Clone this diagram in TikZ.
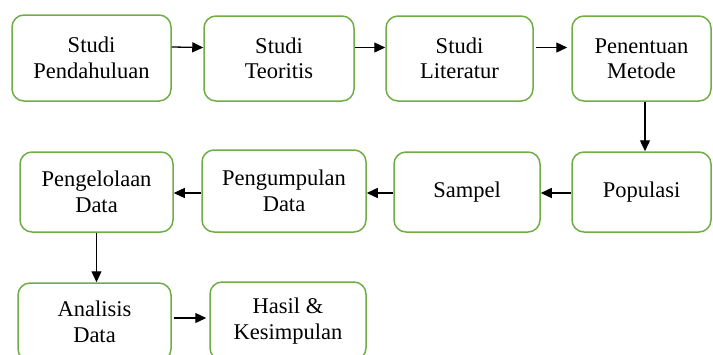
\documentclass[tikz,border=0pt]{standalone}
\usepackage{fontspec}
\setmainfont{Liberation Serif}
\usetikzlibrary{arrows.meta}
\definecolor{boxgreen}{RGB}{112,173,71}
\tikzset{
  stepbox/.style={draw=boxgreen, line width=1.5pt, rounded corners=12pt, fill=white,
    align=center, inner sep=0pt, font=\fontsize{22.5}{25.5}\selectfont},
  conn/.style={draw=black, line width=1.3pt, -{Triangle[length=11pt,width=10pt]}}
}
\begin{document}
\begin{tikzpicture}[x=1pt,y=-1pt]
\useasboundingbox (0,0) rectangle (713,354);
\clip (0,0) rectangle (713,354);
\node[stepbox, minimum width=159pt, minimum height=86pt] (b1) at (91.5,58) {Studi\\Pendahuluan};
\node[stepbox, minimum width=150pt, minimum height=85pt] (b2) at (279,58.5) {Studi\\Teoritis};
\node[stepbox, minimum width=147pt, minimum height=85pt] (b3) at (459.5,58.5) {Studi\\Literatur};
\node[stepbox, minimum width=139pt, minimum height=85pt] (b4) at (641.5,58.5) {Penentuan\\Metode};
\node[stepbox, minimum width=153pt, minimum height=80pt] (b5) at (96.5,192) {Pengelolaan\\Data};
\node[stepbox, minimum width=164pt, minimum height=82pt] (b6) at (284,191) {Pengumpulan\\Data};
\node[stepbox, minimum width=146pt, minimum height=80pt] (b7) at (467,192) {Sampel};
\node[stepbox, minimum width=139pt, minimum height=80pt] (b8) at (641.5,192) {Populasi};
\node[stepbox, minimum width=153pt, minimum height=78pt] (b9) at (94.5,322) {Analisis\\Data};
\node[stepbox, minimum width=156pt, minimum height=78pt] (b10) at (288,321) {Hasil \&\\Kesimpulan};
\draw[conn] ([yshift=11pt]b1.east) -- ([yshift=11pt]b2.west);
\draw[conn] ([yshift=11pt]b2.east) -- ([yshift=11pt]b3.west);
\draw[conn] ([xshift=2pt,yshift=11pt]b3.east) -- ([xshift=-4pt,yshift=11pt]b4.west);
\draw[conn] ([xshift=3.5pt]b4.south) -- ([xshift=3.5pt]b4.south |- b8.north);
\draw[conn] ([yshift=-1pt]b8.west) -- ([yshift=-1pt]b7.east);
\draw[conn] ([yshift=-1pt]b7.west) -- ([yshift=-1pt]b6.east |- b7.west);
\draw[conn] ([yshift=-1pt]b6.west |- b5.east) -- ([yshift=-1pt]b5.east);
\draw[conn] (b5.south) -- (b5.south |- b9.north);
\draw[conn] ([xshift=2pt,yshift=4pt]b9.east) -- ([xshift=-3pt,yshift=4pt]b9.east -| b10.west);
\end{tikzpicture}
\end{document}
